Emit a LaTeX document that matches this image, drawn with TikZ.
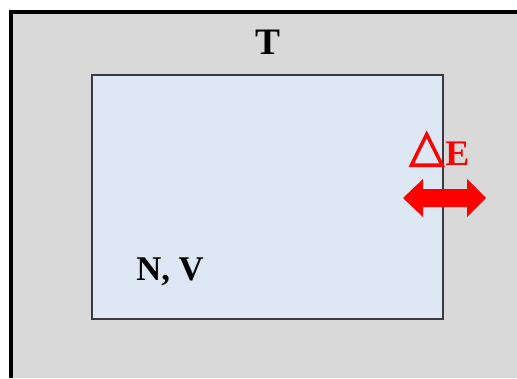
\documentclass[tikz,border=0pt]{standalone}
\usepackage{fontspec}
\setmainfont{Liberation Serif}
\newfontfamily\symfont{DejaVu Sans}
\definecolor{wallgray}{HTML}{D9D9D9}
\definecolor{boxblue}{HTML}{DEE8F4}
\definecolor{edgegray}{HTML}{3A3A40}
\definecolor{flowred}{HTML}{FF0000}
% set a glyph with an added outline stroke so it prints heavier
\newcommand{\heavyglyph}[1]{\special{pdf:code 2 Tr 0.9 w}#1\special{pdf:code 0 Tr}}
\begin{document}
\begin{tikzpicture}[x=0.75pt,y=-0.75pt,
  label/.style={font=\bfseries\fontsize{26}{30}\selectfont, inner sep=0pt, anchor=base}]
  % canvas
  \fill[white] (0,0) rectangle (517,378);
  \useasboundingbox (0,0) rectangle (517,378);
  % surroundings at temperature T
  \fill[wallgray] (11,12) rectangle (517,378);
  \draw[line width=3pt] (11,378) -- (11,12) -- (517,12);
  % the system
  \draw[fill=boxblue, draw=edgegray, line width=1.2pt] (92,75) rectangle (443,319);
  \node[label, font=\bfseries\fontsize{28}{32}\selectfont] (t) at (268,55) {T};
  \node[label] (nv) at (170,280) {N, V};
  \node[label, text=flowred, anchor=base west] (de) at (409,165)
    {\raisebox{3pt}{\symfont\bfseries\fontsize{34}{36}\selectfont\heavyglyph{△}}\kern1pt\textbf{\fontsize{27}{30}\selectfont E}};
  % energy exchange across the wall
  \fill[flowred] (403,198) -- (423,179) -- (423,189) -- (467,189) -- (467,179)
    -- (486,198) -- (467,217) -- (467,207) -- (423,207) -- (423,217) -- cycle;
\end{tikzpicture}
\end{document}
